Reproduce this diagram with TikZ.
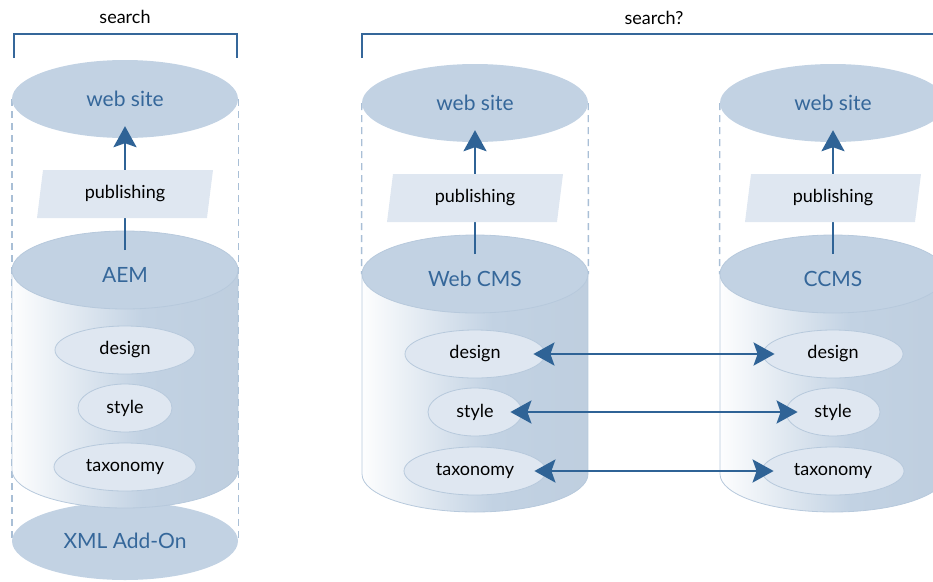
\documentclass[tikz,border=0pt]{standalone}
\usepackage{fontspec}
\setmainfont{Lato}
\usetikzlibrary{arrows.meta,shapes.geometric,backgrounds}
\definecolor{paleblue}{HTML}{C2D2E3}
\definecolor{lightblue}{HTML}{DFE7F1}
\definecolor{edgeblue}{HTML}{B7C9DC}
\definecolor{textblue}{HTML}{35679A}
\definecolor{arrowblue}{HTML}{2F6396}
\definecolor{dashblue}{HTML}{A9BFD6}
\pgfdeclarehorizontalshading{cylshade}{100bp}{color(0bp)=(white); color(25bp)=(white!97!paleblue); color(54bp)=(paleblue); color(100bp)=(paleblue!96!black)}

\begin{document}
\begin{tikzpicture}[x=1pt,y=-1pt,
		oval/.style={ellipse,fill=paleblue,inner sep=0pt,minimum width=226pt,minimum height=78pt,text=textblue,font=\fontsize{21}{25}\selectfont},
		topic/.style={ellipse,fill=lightblue,draw=edgeblue,line width=0.8pt,inner sep=0pt,minimum height=48pt,font=\fontsize{18}{21}\selectfont},
		pubbox/.style={trapezium,trapezium left angle=70,trapezium right angle=110,trapezium stretches body,fill=lightblue,inner sep=0pt,minimum width=176pt,minimum height=48pt,font=\fontsize{18}{21}\selectfont},
		flow/.style={draw=arrowblue,line width=2.6pt,-{Stealth[length=21pt,width=23pt,inset=4pt]}},
		twoway/.style={draw=arrowblue,line width=2.6pt,{Stealth[length=21pt,width=23pt,inset=4pt]}-{Stealth[length=21pt,width=23pt,inset=4pt]},shorten <=-12pt,shorten >=-12pt},
		bracket/.style={draw=textblue,line width=2.4pt},
		guide/.style={draw=dashblue,line width=1.4pt,dash pattern=on 7pt off 5pt}]
		\useasboundingbox (0,0) rectangle (933,581);
		\clip (0,0) rectangle (933,581);
		
		% name, x, y offset, label
		\newcommand{\repo}[4]{
			\node[oval] (site#1) at (#2,103+#3) {web site};
			\path[shade,shading=cylshade,draw=edgeblue,line width=0.8pt] (#2-113,274+#3) -- (#2-113,474+#3)
				arc[start angle=180,end angle=360,x radius=113pt,y radius=38pt] -- (#2+113,274+#3) -- cycle;
			\node[oval,draw=edgeblue,line width=0.8pt] (top#1) at (#2,274+#3) {};
			\node[text=textblue,font=\fontsize{21}{25}\selectfont] (name#1) at ([yshift=-5pt]top#1.center) {#4};
			\draw[flow] ([yshift=20pt]top#1.center) -- ([yshift=12pt]site#1.south);
			\node[pubbox] (pub#1) at (#2,198+#3) {publishing};
			\node[topic,minimum width=140pt] (design#1) at (#2,354+#3) {design};
			\node[topic,minimum width=94pt] (style#1) at (#2,412+#3) {style};
			\node[topic,minimum width=142pt] (taxonomy#1) at (#2,471+#3) {taxonomy};
		}
		
		\node[oval] (xml) at (125,541) {XML Add-On};
		\repo{A}{125}{-4}{AEM}
		\repo{B}{475}{0}{Web CMS}
		\repo{C}{833}{0}{CCMS}
		
		\draw[twoway] (designB.east) -- (designC.west);
		\draw[twoway] (styleB.east) -- (styleC.west);
		\draw[twoway] (taxonomyB.east) -- (taxonomyC.west);
		
		\node[font=\fontsize{18}{21}\selectfont] (searchA) at (125,17) {search};
		\node[font=\fontsize{18}{21}\selectfont] (searchB) at (654,18) {search?};
		\draw[bracket] (14,58) -- (14,34) -- (237,34) -- (237,58);
		\draw[bracket] (362,58) -- (362,34) -- (946,34) -- (946,58);
		
		\begin{scope}[on background layer]
			\draw[guide] (siteA.west) -- (xml.west);
			\draw[guide] (siteA.east) -- (xml.east);
			\draw[guide] (siteB.west) -- (topB.west);
			\draw[guide] (siteB.east) -- (topB.east);
			\draw[guide] (siteC.west) -- (topC.west);
			\draw[guide] (siteC.east) -- (topC.east);
		\end{scope}
	\end{tikzpicture}
\end{document}
